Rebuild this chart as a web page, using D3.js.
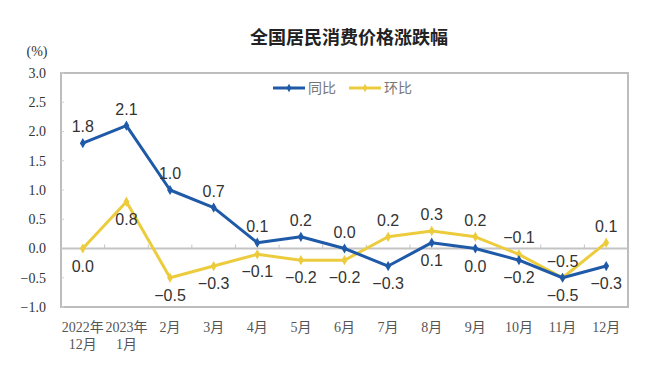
<!DOCTYPE html>
<html><head><meta charset="utf-8">
<script src="https://cdn.jsdelivr.net/npm/d3@7"></script>
<style>
html,body{margin:0;padding:0;background:#fff;}
svg{display:block;}
</style>
</head><body>
<svg id="chart" width="660" height="370"></svg>
<script>
const categories = ["2022年|12月","2023年|1月","2月","3月","4月","5月","6月","7月","8月","9月","10月","11月","12月"];
const yoy = [1.8, 2.1, 1.0, 0.7, 0.1, 0.2, 0.0, -0.3, 0.1, 0.0, -0.2, -0.5, -0.3];
const mom = [0.0, 0.8, -0.5, -0.3, -0.1, -0.2, -0.2, 0.2, 0.3, 0.2, -0.1, -0.5, 0.1];
// label placement: 1 = above, -1 = below
const yoyLabelPos = [1,1,1,1,1,1,1,-1,-1,-1,-1,-1,-1];
const momLabelPos = [-1,-1,-1,-1,-1,-1,-1,1,1,1,1,1,1];
const yTicks = [-1.0,-0.5,0.0,0.5,1.0,1.5,2.0,2.5,3.0];
const seriesNames = ["同比","环比"];
const title = "全国居民消费价格涨跌幅";
const unit = "(%)";

const svg = d3.select("#chart");
const L = 61, R = 628, T = 73, B = 307;
const x = d3.scaleBand().domain(categories).range([L, R]);
const y = d3.scaleLinear().domain([-1, 3]).range([B, T]);
const blue = "#1f5aa8", yellow = "#eccc3c";

// title
svg.append("text").attr("x", 349).attr("y", 44).attr("text-anchor","middle")
  .attr("font-family","'Noto Sans CJK SC',sans-serif").attr("font-weight","bold")
  .attr("font-size",18).attr("fill","#222").text(title);

// unit
svg.append("text").attr("x", 37).attr("y", 56).attr("text-anchor","middle")
  .attr("font-family","'Liberation Serif',serif").attr("font-size",14).attr("fill","#333").text(unit);

// frame
svg.append("rect").attr("x", L).attr("y", T).attr("width", R-L).attr("height", B-T)
  .attr("fill","none").attr("stroke","#bdbdbd").attr("stroke-width",2);

// y axis
const yAxis = d3.axisLeft(y).tickValues(yTicks).tickFormat(d3.format(".1f")).tickSize(0).tickPadding(15);
const ya = svg.append("g").attr("transform",`translate(${L},0)`).call(yAxis);
ya.select(".domain").remove();
ya.selectAll("text").attr("font-family","'Liberation Serif',serif").attr("font-size",14).attr("fill","#333");
// small inner y ticks
svg.append("g").selectAll("line").data(yTicks).join("line")
  .attr("x1", L).attr("x2", L+3).attr("y1", d=>y(d)).attr("y2", d=>y(d))
  .attr("stroke","#d0d0d0").attr("stroke-width",1);

// zero line with ticks at band boundaries
svg.append("line").attr("x1", L).attr("x2", R).attr("y1", y(0)).attr("y2", y(0))
  .attr("stroke","#c4c4c4").attr("stroke-width",2);
svg.append("g").selectAll("line").data(categories.slice(1)).join("line")
  .attr("x1", d=>x(d)).attr("x2", d=>x(d)).attr("y1", y(0)).attr("y2", y(0)-4)
  .attr("stroke","#c4c4c4").attr("stroke-width",1);

// x labels
const xl = svg.append("g");
categories.forEach(c => {
  const parts = c.split("|");
  parts.forEach((p,i) => {
    xl.append("text").attr("x", x(c)+x.bandwidth()/2).attr("y", 332 + i*17)
      .attr("text-anchor","middle").attr("font-family","'Liberation Serif','Noto Sans CJK SC',serif")
      .attr("font-size",14).attr("fill","#555").text(p);
  });
});

const cx = (d,i) => x(categories[i]) + x.bandwidth()/2;
const line = d3.line().x((d,i)=>cx(d,i)).y(d=>y(d));
const diamond = d3.symbol().type(d3.symbolDiamond).size(30);

function drawSeries(vals, color) {
  svg.append("path").datum(vals).attr("d", line).attr("fill","none")
    .attr("stroke", color).attr("stroke-width",3).attr("stroke-linejoin","round");
  svg.append("g").selectAll("path").data(vals).join("path")
    .attr("d", diamond).attr("transform",(d,i)=>`translate(${cx(d,i)},${y(d)})`).attr("fill", color);
}
function drawLabels(vals, pos) {
  svg.append("g").selectAll("text").data(vals).join("text")
    .attr("x",(d,i)=>cx(d,i))
    .attr("y",(d,i)=> y(d) + (pos[i] > 0 ? -11 : 23))
    .attr("text-anchor","middle").attr("font-family","'Liberation Sans',Arial,sans-serif")
    .attr("font-size",16).attr("fill","#333").text(d=>d3.format(".1f")(d));
}
drawSeries(mom, yellow);
drawSeries(yoy, blue);
drawLabels(yoy, yoyLabelPos);
drawLabels(mom, momLabelPos);

// legend
const legend = [{name: seriesNames[0], color: blue, x: 273}, {name: seriesNames[1], color: yellow, x: 349}];
legend.forEach(l => {
  svg.append("line").attr("x1", l.x).attr("x2", l.x+32).attr("y1", 88).attr("y2", 88)
    .attr("stroke", l.color).attr("stroke-width",3);
  svg.append("path").attr("d", d3.symbol().type(d3.symbolDiamond).size(20))
    .attr("transform",`translate(${l.x+16},88)`).attr("fill", l.color);
  svg.append("text").attr("x", l.x+35).attr("y", 93).attr("font-family","'Noto Sans CJK SC',sans-serif")
    .attr("font-size",14).attr("fill","#777").text(l.name);
});
</script>
</body></html>
